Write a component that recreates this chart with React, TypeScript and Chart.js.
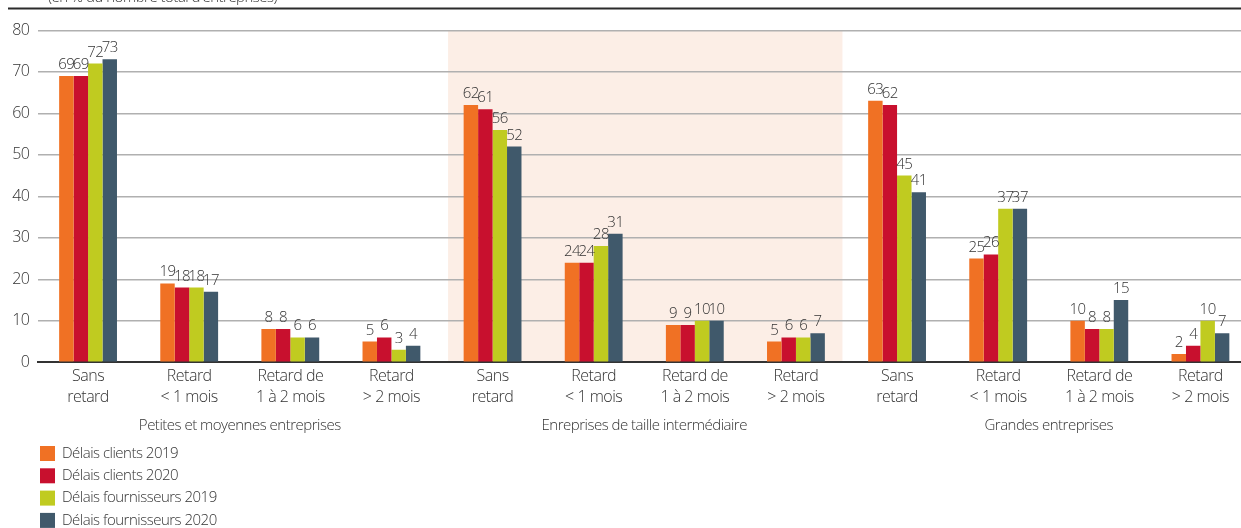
import React, { useEffect, useRef } from "react";
import { Chart, registerables } from "chart.js";

Chart.register(...registerables);

const subtitle = "(en % du nombre total d'entreprises)";
const categories: string[][] = [
  ["Sans", "retard"], ["Retard", "< 1 mois"], ["Retard de", "1 à 2 mois"], ["Retard", "> 2 mois"],
  ["Sans", "retard"], ["Retard", "< 1 mois"], ["Retard de", "1 à 2 mois"], ["Retard", "> 2 mois"],
  ["Sans", "retard"], ["Retard", "< 1 mois"], ["Retard de", "1 à 2 mois"], ["Retard", "> 2 mois"],
];
const groups = [
  "Petites et moyennes entreprises",
  "Enreprises de taille intermédiaire",
  "Grandes entreprises",
];
const seriesLabels = [
  "Délais clients 2019",
  "Délais clients 2020",
  "Délais fournisseurs 2019",
  "Délais fournisseurs 2020",
];
const seriesColors = ["#F07124", "#C8102E", "#C0CB20", "#40596B"];
const clients2019 = [69, 19, 8, 5, 62, 24, 9, 5, 63, 25, 10, 2];
const clients2020 = [69, 18, 8, 6, 61, 24, 9, 6, 62, 26, 8, 4];
const fournisseurs2019 = [72, 18, 6, 3, 56, 28, 10, 6, 45, 37, 8, 10];
const fournisseurs2020 = [73, 17, 6, 4, 52, 31, 10, 7, 41, 37, 15, 7];
const yMin = 0;
const yMax = 80;
const yStep = 10;
// highlighted middle group, in category units
const shadeFrom = 3.56;
const shadeTo = 7.46;

const FONT = "'Open Sans', 'DejaVu Sans', sans-serif";
const WEIGHT = 300;
const SPACING = "-0.5px";
const TEXT = "#333333";

const W = 1251;
const H = 528;

const decorPlugin = {
  id: "decor",
  beforeInit(chart: any) {
    chart.ctx.letterSpacing = SPACING;
  },
  beforeUpdate(chart: any) {
    chart.ctx.letterSpacing = SPACING;
  },
  beforeDraw(chart: any) {
    const { ctx, chartArea, scales } = chart;
    ctx.letterSpacing = SPACING;
    const x = scales.x;
    ctx.save();
    const l = x.getPixelForValue(shadeFrom);
    const r = x.getPixelForValue(shadeTo);
    ctx.fillStyle = "#FCEEE6";
    ctx.fillRect(l, chartArea.top, r - l, chartArea.bottom - chartArea.top);
    ctx.fillStyle = "#2b2b2b";
    ctx.fillRect(8, 7.5, chart.width, 2);
    ctx.fillStyle = TEXT;
    ctx.font = `${WEIGHT} 15px ${FONT}`;
    ctx.textAlign = "left";
    ctx.textBaseline = "alphabetic";
    ctx.fillText(subtitle, 48, 1.5);
    ctx.restore();
  },
  afterDatasetsDraw(chart: any) {
    const { ctx } = chart;
    ctx.save();
    ctx.fillStyle = TEXT;
    ctx.font = `${WEIGHT} 15px ${FONT}`;
    ctx.textAlign = "center";
    ctx.textBaseline = "alphabetic";
    chart.data.datasets.forEach((ds: any, di: number) => {
      const meta = chart.getDatasetMeta(di);
      meta.data.forEach((bar: any, i: number) => {
        ctx.fillText(String(ds.data[i]), bar.x, bar.y - 7);
      });
    });
    ctx.restore();
  },
  afterDraw(chart: any) {
    const { ctx, scales } = chart;
    const x = scales.x;
    ctx.save();
    ctx.fillStyle = TEXT;
    ctx.font = `${WEIGHT} 15px ${FONT}`;
    ctx.textAlign = "center";
    ctx.textBaseline = "middle";
    groups.forEach((g, gi) => {
      const cx = (x.getPixelForValue(gi * 4) + x.getPixelForValue(gi * 4 + 3)) / 2;
      ctx.fillText(g, cx, 426);
    });
    ctx.textAlign = "left";
    chart.data.datasets.forEach((ds: any, di: number) => {
      const top = 446 + di * 22.3;
      ctx.fillStyle = ds.backgroundColor;
      ctx.fillRect(40, top, 15, 15);
      ctx.fillStyle = TEXT;
      ctx.fillText(ds.label, 62, top + 7.5);
    });
    ctx.restore();
  },
};

export default function App() {
  const ref = useRef<HTMLCanvasElement | null>(null);
  useEffect(() => {
    if (!ref.current) return;
    const series = [clients2019, clients2020, fournisseurs2019, fournisseurs2020];
    const chart = new Chart(ref.current, {
      type: "bar",
      data: {
        labels: categories,
        datasets: series.map((d, i) => ({
          label: seriesLabels[i],
          data: d,
          backgroundColor: seriesColors[i],
          borderWidth: 0,
          barPercentage: 1,
          categoryPercentage: 0.572,
        })),
      },
      options: {
        responsive: false,
        maintainAspectRatio: false,
        animation: false,
        devicePixelRatio: 1,
        layout: { padding: { top: 30.3, left: 0, right: 0, bottom: 0 } },
        plugins: {
          legend: { display: false },
          tooltip: { enabled: false },
          title: { display: false },
        },
        scales: {
          x: {
            grid: { display: false, drawTicks: false },
            border: { display: true, color: "#333333", width: 2 },
            ticks: {
              color: TEXT,
              font: { family: FONT, size: 16, weight: WEIGHT, lineHeight: 1.3 },
              padding: 4,
              maxRotation: 0,
              autoSkip: false,
            },
            afterFit: (s: any) => {
              s.height = H - 362.3;
            },
          },
          y: {
            min: yMin,
            max: yMax,
            border: { display: false },
            grid: {
              color: (c: any) => (c.tick && c.tick.value === 0 ? "rgba(0,0,0,0)" : "#b0b0b0"),
              lineWidth: 1.5,
              drawTicks: false,
            },
            ticks: {
              stepSize: yStep,
              color: TEXT,
              font: { family: FONT, size: 16, weight: WEIGHT },
              padding: 8,
            },
            afterFit: (s: any) => {
              s.width = 37.5;
            },
          },
        },
      },
      plugins: [decorPlugin],
    });
    return () => chart.destroy();
  }, []);
  return (
    <div style={{ position: "absolute", left: 0, top: 0, width: 1241, height: H, overflow: "hidden", background: "#fff" }}>
      <canvas ref={ref} width={W} height={H} style={{ width: W, height: H, display: "block" }} />
    </div>
  );
}
